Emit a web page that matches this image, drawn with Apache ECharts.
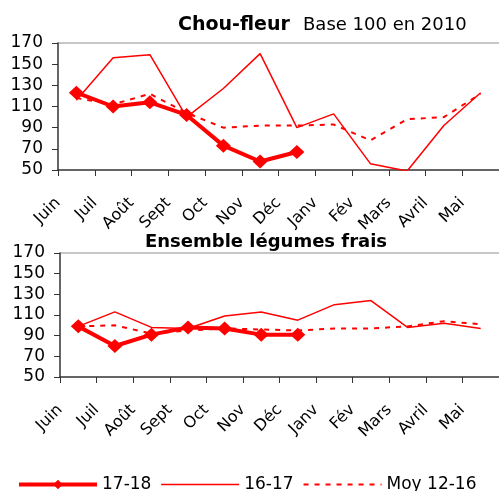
<!DOCTYPE html>
<html>
<head>
<meta charset="utf-8">
<script src="https://cdn.jsdelivr.net/npm/echarts@6/dist/echarts.min.js"></script>
<style>
  html, body { margin: 0; padding: 0; background: #fff; }
  #chart { width: 499px; height: 491px; }
</style>
</head>
<body>
<div id="chart"></div>
<script>
// mois (axe x)
const months = ['Juin', 'Juil', 'Août', 'Sept', 'Oct', 'Nov', 'Déc', 'Janv', 'Fév', 'Mars', 'Avril', 'Mai']
const yTicks = [50, 170, 20] // min, max, pas

// Chou-fleur
const chou1718 = [123, 110, 114, 102, 73, 58, 67]
const chou1617 = [116, 156, 159, 100, 127, 160, 90, 103, 56, 49, 92, 123]
const chouMoy = [118, 112, 122, 104, 90, 92, 92, 93, 78, 98, 100, 122]

// Ensemble légumes frais
const leg1718 = [99, 80, 91, 98, 97, 91, 91]
const leg1617 = [99, 113, 98, 97, 109, 113, 105, 120, 124, 98, 102, 97]
const legMoy = [99, 100, 92, 95, 97, 96, 95, 97, 97, 99, 104, 101]

const seriesNames = ['17-18', '16-17', 'Moy 12-16']

const RED = '#ff0000'
const FONT = 'DejaVu Sans'

const chart = echarts.init(document.getElementById('chart'))

/* axe x commun aux deux graphes */
function xAxisOf(gridIndex) {
  return {
    type: 'category',
    gridIndex: gridIndex,
    data: months,
    boundaryGap: true,
    axisLine: { lineStyle: { color: '#333', width: 1.5 } },
    axisTick: { show: true, interval: 0, length: 6, lineStyle: { color: '#333' } },
    axisLabel: {
      interval: 0,
      rotate: 45,
      margin: 12,
      padding: [0, 26, 0, 0],
      color: '#000',
      fontFamily: FONT,
      fontSize: 16
    }
  }
}

/* axe y commun : 50 - 170, pas de 20 */
function yAxisOf(gridIndex) {
  return {
    type: 'value',
    gridIndex: gridIndex,
    min: yTicks[0],
    max: yTicks[1],
    interval: yTicks[2],
    axisLine: { show: true, lineStyle: { color: '#333', width: 1.5 } },
    axisTick: { show: true, length: 6, lineStyle: { color: '#333' } },
    axisLabel: { color: '#000', fontFamily: FONT, fontSize: 17, margin: 15 },
    splitLine: {
      show: true,
      lineStyle: {
        color: ['transparent', 'transparent', 'transparent', 'transparent', 'transparent', 'transparent', '#b4b4b4'],
        width: 1.5
      }
    }
  }
}

/* trois séries par graphe */
function seriesOf(idx, s1718, s1617, sMoy) {
  return [
    {
      name: seriesNames[2],
      type: 'line',
      xAxisIndex: idx,
      yAxisIndex: idx,
      data: sMoy,
      symbol: 'none',
      lineStyle: { color: RED, width: 2, type: [5, 6] },
      itemStyle: { color: RED },
      z: 2
    },
    {
      name: seriesNames[1],
      type: 'line',
      xAxisIndex: idx,
      yAxisIndex: idx,
      data: s1617,
      symbol: 'none',
      lineStyle: { color: RED, width: 1.5 },
      itemStyle: { color: RED },
      z: 3
    },
    {
      name: seriesNames[0],
      type: 'line',
      xAxisIndex: idx,
      yAxisIndex: idx,
      data: s1718,
      symbol: 'diamond',
      symbolSize: [15, 14],
      showAllSymbol: true,
      lineStyle: { color: RED, width: 4 },
      itemStyle: { color: RED },
      z: 4
    }
  ]
}

chart.setOption({
  animation: false,
  textStyle: { fontFamily: FONT },
  title: [
    {
      text: 'Chou-fleur',
      left: 173,
      top: 11,
      textStyle: { fontFamily: FONT, fontWeight: 'bold', fontSize: 19, color: '#000' }
    },
    {
      text: 'Base 100 en 2010',
      left: 298,
      top: 11,
      textStyle: { fontFamily: FONT, fontWeight: 'normal', fontSize: 18, color: '#000' }
    },
    {
      text: 'Ensemble légumes frais',
      left: 140,
      top: 228,
      textStyle: { fontFamily: FONT, fontWeight: 'bold', fontSize: 18, color: '#000' }
    }
  ],
  legend: {
    data: [
      { name: seriesNames[0], lineStyle: { width: 4 } },
      { name: seriesNames[1], itemStyle: { opacity: 0 }, lineStyle: { width: 1.5 } },
      { name: seriesNames[2], itemStyle: { opacity: 0 }, lineStyle: { width: 2 } }
    ],
    left: 12,
    top: 471,
    itemWidth: 78,
    itemHeight: 12,
    itemGap: 9,
    textStyle: { fontFamily: FONT, fontSize: 17, color: '#000' }
  },
  grid: [
    { left: 58, top: 43, width: 442, height: 127 },
    { left: 60, top: 253, width: 440, height: 124 }
  ],
  xAxis: [xAxisOf(0), xAxisOf(1)],
  yAxis: [yAxisOf(0), yAxisOf(1)],
  series: [].concat(
    seriesOf(0, chou1718, chou1617, chouMoy),
    seriesOf(1, leg1718, leg1617, legMoy)
  )
})
</script>
</body>
</html>
